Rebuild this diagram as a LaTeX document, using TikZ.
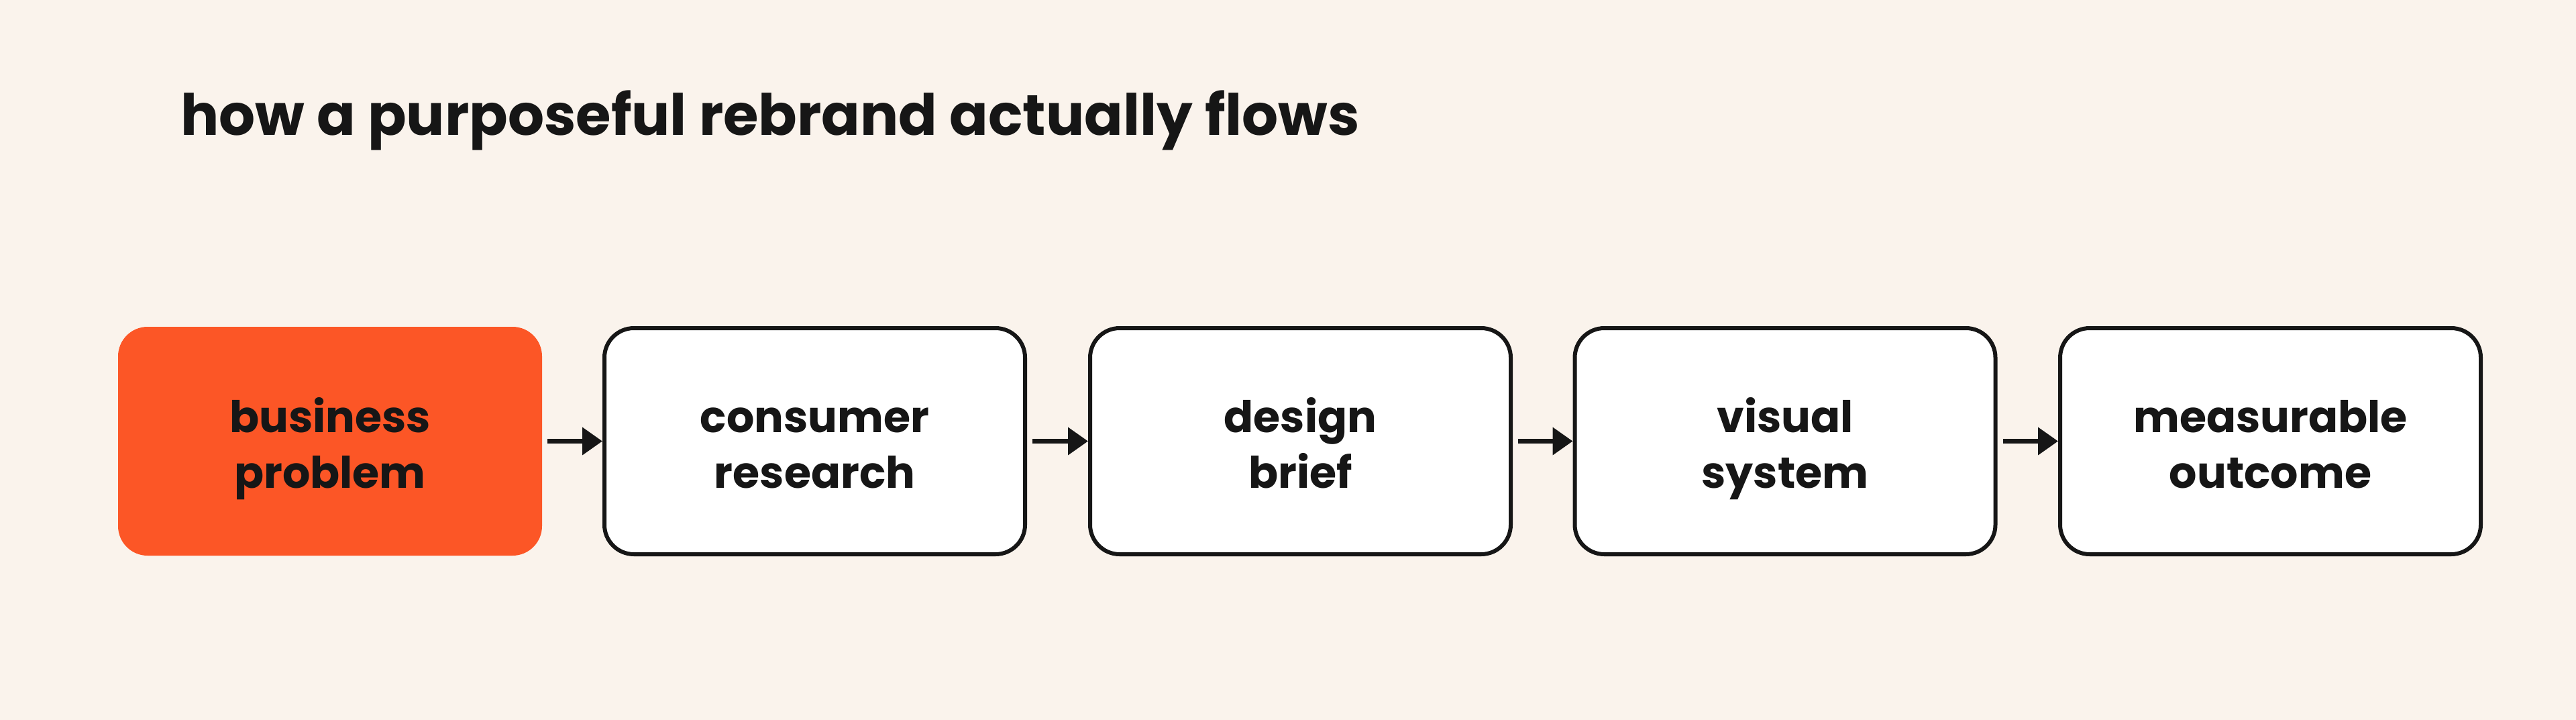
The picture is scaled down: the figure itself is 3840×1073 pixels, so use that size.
\documentclass[tikz,border=0pt]{standalone}
\usepackage{fontspec}
\setmainfont{Poppins}
\usetikzlibrary{arrows.meta}
\definecolor{bgc}{HTML}{FAF3EC}
\definecolor{orangec}{HTML}{FC5626}
\definecolor{inkc}{HTML}{161616}
\tikzset{
  stagebox/.style={rounded corners=44pt, minimum width=627pt, minimum height=337pt,
    align=center, inner sep=0pt, text=inkc, text height=143pt, text depth=4pt,
    font=\fontsize{65}{83}\selectfont\bfseries},
  plainbox/.style={stagebox, draw=inkc, line width=6pt, fill=white},
  hotbox/.style={stagebox, fill=orangec, minimum width=632pt, minimum height=341pt},
  flow/.style={draw=inkc, line width=7pt, -{Triangle[length=30pt,width=40pt]}},
  titletext/.style={font=\fontsize{85}{90}\selectfont\bfseries, text=inkc, inner sep=0pt, anchor=base west}
}
\begin{document}
\begin{tikzpicture}[x=1pt,y=-1pt]
\path[fill=bgc] (0,0) rectangle (3840,1073);
\useasboundingbox (0,0) rectangle (3840,1073);
\node[titletext] (title) at (269,201) {how a purposeful rebrand actually flows};
\node[hotbox] (b1) at (492,657.5) {business\\problem};
\node[plainbox] (b2) at (1214.5,657.5) {consumer\\research};
\node[plainbox] (b3) at (1938.5,657.5) {design\\brief};
\node[plainbox] (b4) at (2661,657.5) {visual\\system};
\node[plainbox] (b5) at (3384.5,657.5) {measurable\\outcome};
\draw[flow] ([xshift=8pt]b1.east) -- (b2.west);
\draw[flow] ([xshift=8pt]b2.east) -- (b3.west);
\draw[flow] ([xshift=8pt]b3.east) -- (b4.west);
\draw[flow] ([xshift=8pt]b4.east) -- (b5.west);
\end{tikzpicture}
\end{document}
